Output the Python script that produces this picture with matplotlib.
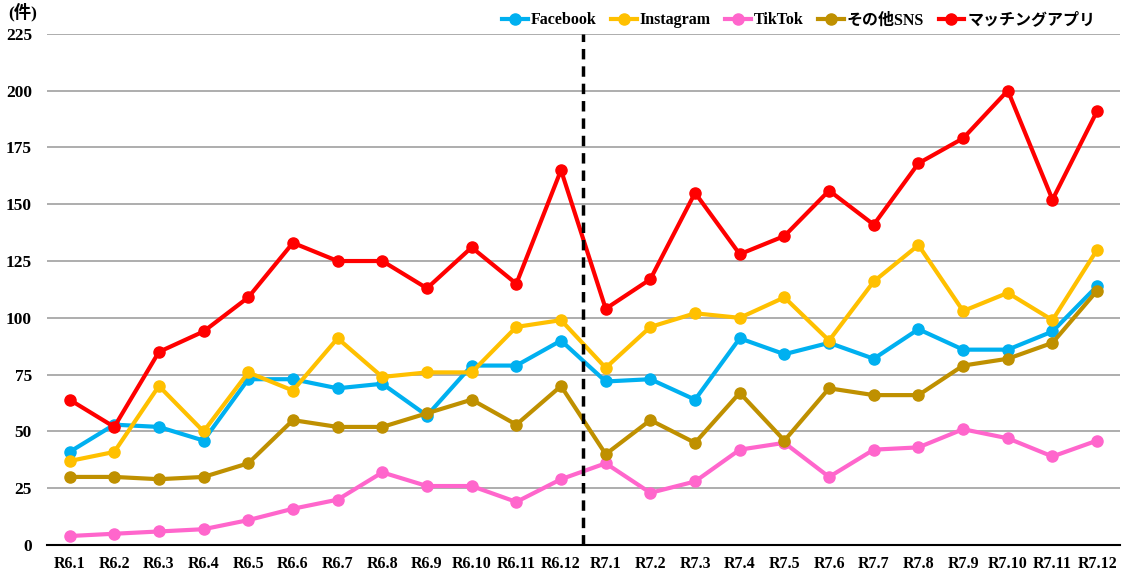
import matplotlib
matplotlib.use("Agg")
import matplotlib.pyplot as plt

# Data
months = ["R6.1", "R6.2", "R6.3", "R6.4", "R6.5", "R6.6", "R6.7", "R6.8", "R6.9", "R6.10", "R6.11", "R6.12",
          "R7.1", "R7.2", "R7.3", "R7.4", "R7.5", "R7.6", "R7.7", "R7.8", "R7.9", "R7.10", "R7.11", "R7.12"]
facebook = [41, 53, 52, 46, 73, 73, 69, 71, 57, 79, 79, 90, 72, 73, 64, 91, 84, 89, 82, 95, 86, 86, 94, 114]
instagram = [37, 41, 70, 50, 76, 68, 91, 74, 76, 76, 96, 99, 78, 96, 102, 100, 109, 90, 116, 132, 103, 111, 99, 130]
tiktok = [4, 5, 6, 7, 11, 16, 20, 32, 26, 26, 19, 29, 36, 23, 28, 42, 45, 30, 42, 43, 51, 47, 39, 46]
other_sns = [30, 30, 29, 30, 36, 55, 52, 52, 58, 64, 53, 70, 40, 55, 45, 67, 46, 69, 66, 66, 79, 82, 89, 112]
matching = [64, 52, 85, 94, 109, 133, 125, 125, 113, 131, 115, 165, 104, 117, 155, 128, 136, 156, 141, 168, 179, 200, 152, 191]

series = [
    ("Facebook", facebook, "#00B0F0"),
    ("Instagram", instagram, "#FFC000"),
    ("TikTok", tiktok, "#FF66CC"),
    ("その他SNS", other_sns, "#BF9000"),
    ("マッチングアプリ", matching, "#FF0000"),
]

plt.rcParams['font.family'] = ['Liberation Serif', 'Noto Sans CJK JP', 'DejaVu Sans']
plt.rcParams['font.weight'] = 'bold'

fig = plt.figure(figsize=(11.24, 5.72), dpi=100)
ax = fig.add_axes([0.042, 0.047, 0.954, 0.894])

x = list(range(len(months)))
for name, vals, col in series:
    ax.plot(x, vals, color=col, linewidth=3, marker='o', markersize=8, label=name)

# boundary between R6 and R7
ax.axvline(11.5, color='black', linewidth=2.5, linestyle=(0, (3, 2)), zorder=5)

ax.set_ylim(0, 225)
ax.set_xlim(-0.5, len(months) - 0.5)
ax.set_yticks(range(0, 226, 25))
ax.set_xticks(x)
ax.set_xticklabels(months)
ax.yaxis.grid(True, color='#A0A0A0', linewidth=1.2)
ax.set_axisbelow(True)
for s in ['top', 'right', 'left']:
    ax.spines[s].set_visible(False)
ax.spines['bottom'].set_color('black')
ax.spines['bottom'].set_linewidth(1.5)
ax.tick_params(axis='x', length=0, labelsize=11.5, pad=8)
ax.tick_params(axis='y', length=0, labelsize=12.5, pad=11)

fig.text(0.007, 0.979, "(件)", fontsize=12.5, fontweight='bold', ha='left', va='center')

fig.legend(loc='upper right', bbox_to_anchor=(0.983, 0.995), ncol=5, frameon=False,
           fontsize=11.5, handlelength=1.6, handletextpad=0.2, columnspacing=0.9,
           borderaxespad=0.2)

fig.savefig("out.png", dpi=100)
